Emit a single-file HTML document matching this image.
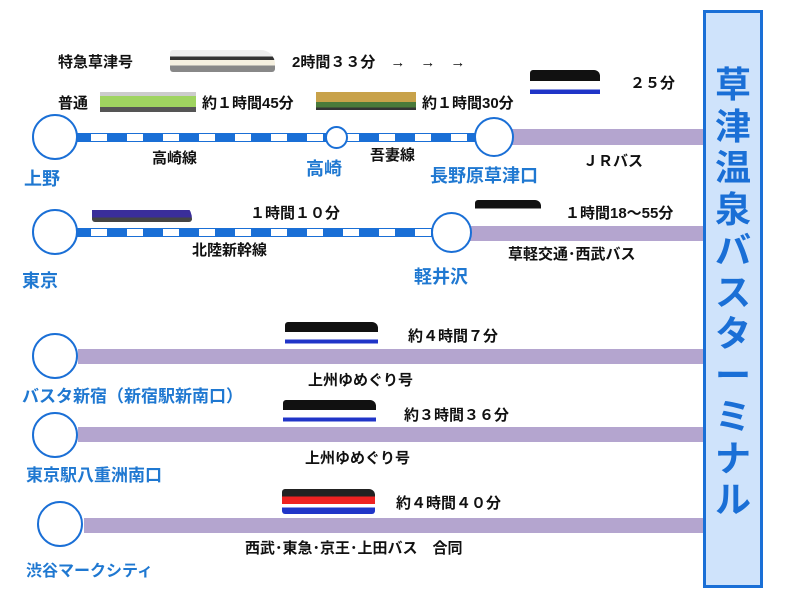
<!DOCTYPE html>
<html><head><meta charset="utf-8"><style>
body{margin:0;width:800px;height:602px;background:#fff;position:relative;overflow:hidden;font-family:"Liberation Sans","Noto Sans CJK JP",sans-serif;}
.a{position:absolute;white-space:nowrap;}
.t{font-size:15px;font-weight:bold;color:#111;}
.s{font-size:18px;color:#1f78d1;font-weight:bold;}
.c{position:absolute;border:2px solid #1a6fd6;border-radius:50%;background:#fff;box-sizing:border-box;}
.p{position:absolute;background:#b4a5cf;}
.r{position:absolute;height:9px;border:1.5px solid #1a6fd6;box-sizing:border-box;background:repeating-linear-gradient(90deg,#1a6fd6 0 20px,#fff 20px 36px);}
.bus{position:absolute;width:72px;height:26px;background:linear-gradient(#111 0 40%,#fff 40% 70%,#2035c8 70% 85%,#fff 85%);border-radius:3px 6px 3px 3px;}
</style></head><body>
<div class="a t" style="left:58px;top:51px">特急草津号</div>
<div class="a" style="left:170px;top:50px;width:105px;height:22px;background:linear-gradient(#eee 0 30%,#333 30% 45%,#f5f0e0 45% 70%,#888 70%);border-radius:3px 14px 3px 3px"></div>
<div class="a t" style="left:292px;top:51px">2時間３３分　→　→　→</div>
<div class="a t" style="left:58px;top:92px">普通</div>
<div class="a" style="left:100px;top:92px;width:96px;height:20px;background:linear-gradient(#ccc 0 20%,#9fd460 20% 75%,#555 75%)"></div>
<div class="a t" style="left:202px;top:92px">約１時間45分</div>
<div class="a" style="left:316px;top:92px;width:100px;height:18px;background:linear-gradient(#c8a24a 0 55%,#4a7a3a 55% 85%,#333 85%)"></div>
<div class="a t" style="left:422px;top:92px">約１時間30分</div>
<div class="bus" style="left:530px;top:70px;width:70px;height:28px"></div>
<div class="a t" style="left:630px;top:72px">２５分</div>

<div class="r" style="left:70px;top:133px;width:420px"></div>
<div class="p" style="left:512px;top:129px;width:192px;height:16px"></div>
<div class="c" style="left:32px;top:114px;width:46px;height:46px"></div>
<div class="c" style="left:325px;top:126px;width:23px;height:23px"></div>
<div class="c" style="left:474px;top:117px;width:40px;height:40px"></div>
<div class="a t" style="left:152px;top:147px">高崎線</div>
<div class="a t" style="left:370px;top:144px">吾妻線</div>
<div class="a t" style="left:583px;top:150px">ＪＲバス</div>
<div class="a s" style="left:24px;top:165px">上野</div>
<div class="a s" style="left:306px;top:155px">高崎</div>
<div class="a s" style="left:430px;top:162px">長野原草津口</div>

<div class="a" style="left:92px;top:200px;width:100px;height:22px;background:linear-gradient(#fff 0 45%,#3a2e9a 45% 80%,#444 80%);border-radius:3px 20px 3px 3px"></div>
<div class="a t" style="left:250px;top:202px">１時間１０分</div>
<div class="bus" style="left:475px;top:200px;width:66px;height:24px;background:linear-gradient(#111 0 35%,#fff 35%)"></div>
<div class="a t" style="left:565px;top:202px">１時間18～55分</div>
<div class="r" style="left:70px;top:228px;width:372px"></div>
<div class="p" style="left:470px;top:226px;width:234px;height:15px"></div>
<div class="c" style="left:32px;top:209px;width:46px;height:46px"></div>
<div class="c" style="left:431px;top:212px;width:41px;height:41px"></div>
<div class="a t" style="left:192px;top:239px">北陸新幹線</div>
<div class="a t" style="left:508px;top:243px">草軽交通･西武バス</div>
<div class="a s" style="left:22px;top:267px">東京</div>
<div class="a s" style="left:414px;top:263px">軽井沢</div>

<div class="bus" style="left:285px;top:322px;width:93px;height:25px"></div>
<div class="a t" style="left:408px;top:325px">約４時間７分</div>
<div class="p" style="left:78px;top:349px;width:626px;height:15px"></div>
<div class="c" style="left:32px;top:333px;width:46px;height:46px"></div>
<div class="a t" style="left:308px;top:369px">上州ゆめぐり号</div>
<div class="a s" style="left:22px;top:382px;font-size:17px">バスタ新宿（新宿駅新南口）</div>

<div class="bus" style="left:283px;top:400px;width:93px;height:25px"></div>
<div class="a t" style="left:404px;top:404px">約３時間３６分</div>
<div class="p" style="left:78px;top:427px;width:626px;height:15px"></div>
<div class="c" style="left:32px;top:412px;width:46px;height:46px"></div>
<div class="a t" style="left:305px;top:447px">上州ゆめぐり号</div>
<div class="a s" style="left:26px;top:461px;font-size:17px">東京駅八重洲南口</div>

<div class="bus" style="left:282px;top:489px;width:93px;height:25px;background:linear-gradient(#222 0 30%,#e22 30% 60%,#fff 60% 75%,#2035c8 75%)"></div>
<div class="a t" style="left:396px;top:492px">約４時間４０分</div>
<div class="p" style="left:84px;top:518px;width:620px;height:15px"></div>
<div class="c" style="left:37px;top:501px;width:46px;height:46px"></div>
<div class="a t" style="left:245px;top:537px">西武･東急･京王･上田バス　合同</div>
<div class="a s" style="left:26px;top:557px;font-size:16px">渋谷マークシティ</div>

<div class="a" style="left:703px;top:10px;width:60px;height:578px;box-sizing:border-box;border:3px solid #1a6fd6;background:#cfe3fb"></div>
<div class="a" style="left:703px;top:64px;width:60px;text-align:center;font-size:36px;line-height:41.5px;font-weight:bold;color:#1a6fd6;white-space:normal">草<br>津<br>温<br>泉<br>バ<br>ス<br>タ<br>ー<br>ミ<br>ナ<br>ル</div>
</body></html>
